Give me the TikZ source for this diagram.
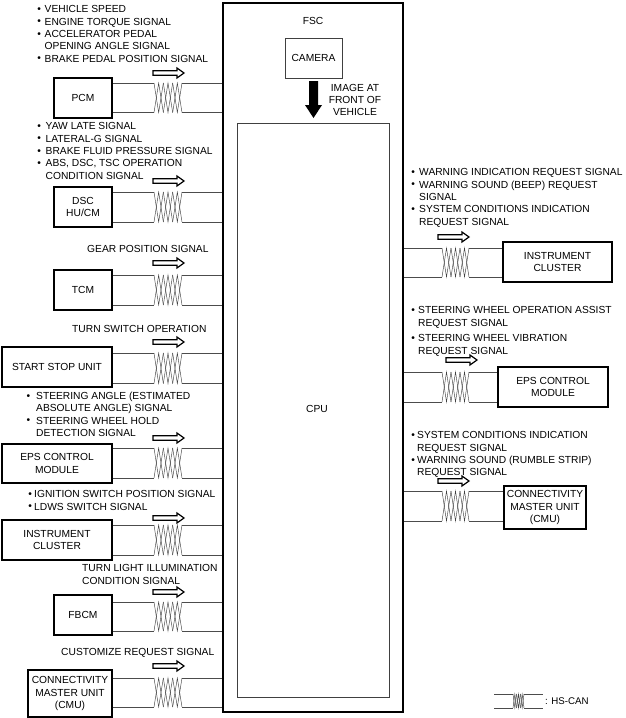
\documentclass[tikz,border=0pt]{standalone}
\usepackage{fontspec}
\setmainfont{Liberation Sans}
\usepackage{tikz}

\tikzset{
	module/.style={shape=rectangle,draw=black,line width=1.2pt,align=center,inner sep=0pt},
	thinbox/.style={shape=rectangle,draw=black!75,line width=0.6pt,align=center,inner sep=0pt},
	signal/.style={anchor=north west,align=left,inner sep=0pt},
	label/.style={align=center,inner sep=0pt},
	wire/.style={draw=black!70,line width=0.6pt},
	strand/.style={draw=black!75,line width=0.45pt},
	flow/.style={draw=black,line width=1.2pt,fill=white}
}
% bullet hanging left of the text, optional gap
\newcommand{\blt}[1][3.7pt]{\llap{\raisebox{0.3pt}{\textbullet}\hspace{#1}}}

% twisted pair between two anchors: left, right, upper y, lower y, start of the twist, its width
\newcommand{\canpair}[6]{
	\path[wire] (#1 |- 0,#3) edge (#5,#3);
	\path[wire] (#1 |- 0,#4) edge (#5,#4);
	\path[wire] ({#5+#6},#3) edge (#2 |- 0,#3);
	\path[wire] ({#5+#6},#4) edge (#2 |- 0,#4);
	\foreach \i in {0,1,2} {
		\draw[strand] ({#5+\i*#6/3},#3) -- ({#5+(\i+0.5)*#6/3},#4) -- ({#5+(\i+1)*#6/3},#3);
		\draw[strand] ({#5+\i*#6/3},#4) -- ({#5+(\i+0.5)*#6/3},#3) -- ({#5+(\i+1)*#6/3},#4);
	}
}
% hollow arrow: left end, centre y
\newcommand{\flowarrow}[2]{
	\draw[flow] (#1,{#2-2.3}) -- ({#1+24},{#2-2.3}) -- ({#1+24},{#2-5}) -- ({#1+31},#2) -- ({#1+24},{#2+5}) -- ({#1+24},{#2+2.3}) -- (#1,{#2+2.3}) -- cycle;
}

\begin{document}
\begin{tikzpicture}[x=1pt,y=-1pt,font=\fontsize{10.25}{12.3}\selectfont]
	\useasboundingbox (0,0) rectangle (625,718);
	
	\node[module,minimum width=180pt,minimum height=709pt] (fsc) at (313,357.5) {};
	\node[thinbox,minimum width=57pt,minimum height=40pt] (camera) at (313.5,58) {CAMERA};
	\node[thinbox,minimum width=152pt,minimum height=574pt] (cpu) at (313,410) {};
	\node[label] (cputext) at (317,409) {CPU};
	\node[label] (fsctext) at (313,21) {FSC};
	\node[label] (imagetext) at (355,100) {IMAGE AT\\FRONT OF\\VEHICLE};
	
	\node[module,minimum width=58pt,minimum height=40pt] (pcm) at (83,98) {PCM};
	\node[module,minimum width=58pt,minimum height=40pt] (dsc) at (83,207) {DSC\\HU/CM};
	\node[module,minimum width=58pt,minimum height=40pt] (tcm) at (83,290) {TCM};
	\node[module,minimum width=110pt,minimum height=40pt] (ssu) at (57,367) {START STOP UNIT};
	\node[module,minimum width=110pt,minimum height=39pt] (epsl) at (57,463.5) {EPS CONTROL\\MODULE};
	\node[module,minimum width=110pt,minimum height=40pt] (icl) at (57,540) {INSTRUMENT\\CLUSTER};
	\node[module,minimum width=58pt,minimum height=40pt] (fbcm) at (83,615) {FBCM};
	\node[module,minimum width=84pt,minimum height=47pt] (cmul) at (70,693.5) {CONNECTIVITY\\MASTER UNIT\\(CMU)};
	
	\node[module,minimum width=109pt,minimum height=40pt] (icr) at (557.5,262) {INSTRUMENT\\CLUSTER};
	\node[module,minimum width=110pt,minimum height=40pt] (epsr) at (553,387) {EPS CONTROL\\MODULE};
	\node[module,minimum width=82pt,minimum height=43pt] (cmur) at (545,507.5) {CONNECTIVITY\\MASTER UNIT\\(CMU)};
	
	\canpair{pcm.east}{fsc.west}{83}{112.5}{154}{28}
	\canpair{dsc.east}{fsc.west}{192}{222}{154}{28}
	\canpair{tcm.east}{fsc.west}{275}{305}{154}{28}
	\canpair{ssu.east}{fsc.west}{353}{383.5}{154}{28}
	\canpair{epsl.east}{fsc.west}{448}{478}{154}{28}
	\canpair{icl.east}{fsc.west}{525}{555}{154}{28}
	\canpair{fbcm.east}{fsc.west}{602}{631}{154}{28}
	\canpair{cmul.east}{fsc.west}{678}{707}{154}{28}
	\canpair{fsc.east}{icr.west}{248}{277}{442}{27}
	\canpair{fsc.east}{epsr.west}{372}{402}{442}{27}
	\canpair{fsc.east}{cmur.west}{491}{521}{442}{27}
	
	\flowarrow{153}{73}
	\flowarrow{153}{181}
	\flowarrow{153}{263}
	\flowarrow{153}{342}
	\flowarrow{153}{438}
	\flowarrow{153}{518}
	\flowarrow{153}{592}
	\flowarrow{153}{666}
	\flowarrow{438}{237}
	\flowarrow{446}{360}
	\flowarrow{438}{481}
	
	\fill[black] (309,81) -- (318,81) -- (318,105) -- (322,105) -- (313.5,118) -- (305,105) -- (309,105) -- cycle;
	
	\node[signal] (pcmsig) at (44.5,5.5) {\blt VEHICLE SPEED\\\blt ENGINE TORQUE SIGNAL\\\blt ACCELERATOR PEDAL\\OPENING ANGLE SIGNAL\\\blt BRAKE PEDAL POSITION SIGNAL};
	\node[signal] (dscsig) at (45.5,122.5) {\blt[4.7pt]YAW LATE SIGNAL\\\blt[4.7pt]LATERAL-G SIGNAL\\\blt[4.7pt]BRAKE FLUID PRESSURE SIGNAL\\\blt[4.7pt]ABS, DSC, TSC OPERATION\\CONDITION SIGNAL};
	\node[signal] (tcmsig) at (87,245.5) {GEAR POSITION SIGNAL};
	\node[signal] (ssusig) at (72,325.5) {TURN SWITCH OPERATION};
	\node[signal] (epssig) at (36,392) {\blt[6pt]STEERING ANGLE (ESTIMATED\\ABSOLUTE ANGLE) SIGNAL\\\blt[6pt]STEERING WHEEL HOLD\\DETECTION SIGNAL};
	\node[signal] (icsig) at (34,490.5) {\blt[2.2pt]IGNITION SWITCH POSITION SIGNAL\\\blt[2.2pt]LDWS SWITCH SIGNAL};
	\node[signal] (fbcmsig) at (82,564.5) {TURN LIGHT ILLUMINATION\\CONDITION SIGNAL};
	\node[signal] (cmusig) at (61,648.5) {CUSTOMIZE REQUEST SIGNAL};
	
	\node[signal] (icrsig) at (419,168.5) {\blt[4.2pt]WARNING INDICATION REQUEST SIGNAL\\\blt[4.2pt]WARNING SOUND (BEEP) REQUEST\\SIGNAL\\\blt[4.2pt]SYSTEM CONDITIONS INDICATION\\REQUEST SIGNAL};
	\node[signal] (epsrsig) at (418,306.5) {\blt[3.2pt]STEERING WHEEL OPERATION ASSIST\\REQUEST SIGNAL};
	\node[signal] (epsrsigb) at (418,334.5) {\blt[3.2pt]STEERING WHEEL VIBRATION\\REQUEST SIGNAL};
	\node[signal] (cmursig) at (417,431.5) {\blt[2.2pt]SYSTEM CONDITIONS INDICATION\\REQUEST SIGNAL\\\blt[2.2pt]WARNING SOUND (RUMBLE STRIP)\\REQUEST SIGNAL};
	
	% legend
	\coordinate (keya) at (494,700);
	\coordinate (keyb) at (543,700);
	\canpair{keya}{keyb}{694}{708}{513}{11}
	\node[signal,font=\fontsize{9.7}{12}\selectfont] (keytext) at (545,698) {: HS-CAN};
	
\end{tikzpicture}
\end{document}
